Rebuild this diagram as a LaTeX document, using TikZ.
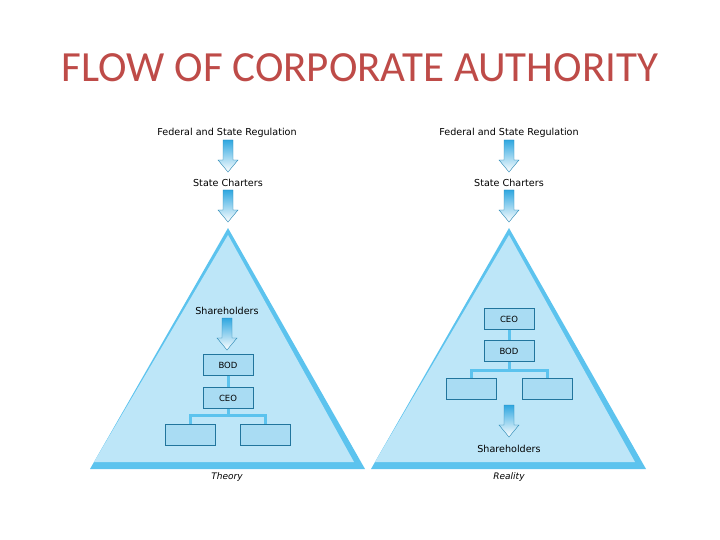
\documentclass[tikz,border=0pt]{standalone}
\usepackage{fontspec}
\setmainfont{Carlito}
\newfontfamily\lblfont{DejaVu Sans}
\definecolor{tri}{HTML}{BDE6F8}
\definecolor{triedge}{HTML}{5CC3EE}
\definecolor{boxc}{HTML}{A9DCF3}
\definecolor{boxd}{HTML}{2FA7E0}
\definecolor{titlec}{HTML}{BE4B48}
\begin{document}
\begin{tikzpicture}[x=1pt,y=-1pt,
  lbl/.style={font=\lblfont\fontsize{9.6}{11}\selectfont, inner sep=1pt},
  orgbox/.style={draw=boxd!70!black, line width=0.4pt, fill=boxc, minimum width=50pt, minimum height=21pt, font=\lblfont\fontsize{8.5}{9}\selectfont},
  conn/.style={draw=triedge, line width=3pt},
  pics/blockarrow/.style={code={
    \shade[top color=boxd, bottom color=white, draw=boxd!80!black, line width=0.4pt]
      (-5,0) -- (5,0) -- (5,20) -- (10,20) -- (0,32) -- (-10,20) -- (-5,20) -- cycle;}}]
\useasboundingbox (0,0) rectangle (720,540);
\node[text=titlec, font=\fontsize{43}{48}\selectfont] (title) at (360,68) {FLOW OF CORPORATE AUTHORITY};
% triangles
\foreach \cx/\nm in {228/L,509/R}{
  \fill[triedge] (\cx,228) -- (\cx+137,469) -- (\cx-138,469) -- cycle;
  \fill[tri] (\cx,235) -- (\cx+126,462) -- (\cx-134,462) -- cycle;
}
% LEFT
\node[lbl] (lfed) at (227,133) {Federal and State Regulation};
\pic at (228,140) {blockarrow};
\node[lbl] (lsc) at (228,183) {State Charters};
\pic at (228,190) {blockarrow};
\node[lbl] (lsh) at (227,311) {Shareholders};
\pic at (227,318) {blockarrow};
\node[orgbox] (lbod) at (228,365) {BOD};
\node[orgbox] (lceo) at (228,398) {CEO};
\coordinate (lbar) at (228,415);
\draw[conn] (lbod.south) -- (lceo.north);
\node[orgbox] (l1) at (190,435) {};
\node[orgbox] (l2) at (265,435) {};
\draw[conn] (lceo.south) -- (lbar);
\draw[conn] (l1.north) |- (lbar) -| (l2.north);
\node[lbl, font=\lblfont\itshape\fontsize{9}{10}\selectfont] (lth) at (227,477) {Theory};
% RIGHT
\node[lbl] (rfed) at (509,133) {Federal and State Regulation};
\pic at (509,140) {blockarrow};
\node[lbl] (rsc) at (509,183) {State Charters};
\pic at (509,190) {blockarrow};
\node[orgbox] (rceo) at (509,319) {CEO};
\node[orgbox] (rbod) at (509,351) {BOD};
\draw[conn] (rceo.south) -- (rbod.north);
\coordinate (rbar) at (509,370);
\node[orgbox] (r1) at (471,389) {};
\node[orgbox] (r2) at (547,389) {};
\draw[conn] (rbod.south) -- (rbar);
\draw[conn] (r1.north) |- (rbar) -| (r2.north);
\pic at (509,405) {blockarrow};
\node[lbl] (rsh) at (509,449) {Shareholders};
\node[lbl, font=\lblfont\itshape\fontsize{9}{10}\selectfont] (rre) at (509,477) {Reality};
\end{tikzpicture}
\end{document}
